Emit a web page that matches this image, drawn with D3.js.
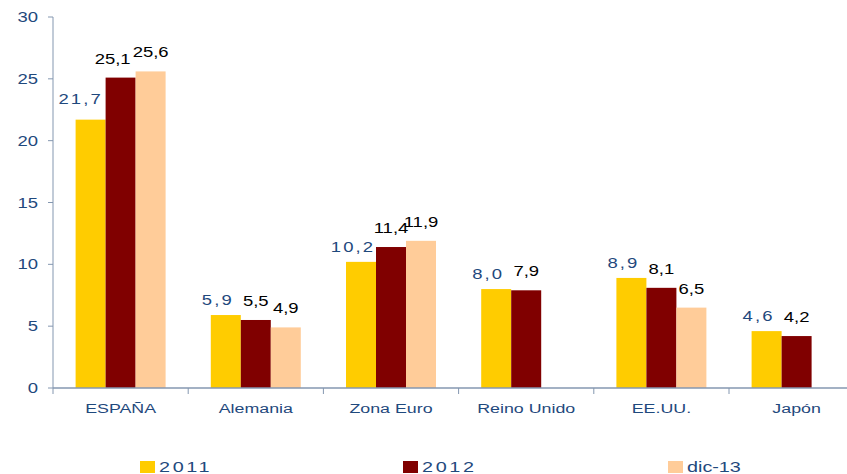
<!DOCTYPE html>
<html>
<head>
<meta charset="utf-8">
<script src="https://cdn.jsdelivr.net/npm/d3@7"></script>
<style>
  body { margin: 0; background: #fff; }
  svg { font-family: "Liberation Sans", Arial, sans-serif; }
</style>
</head>
<body>
<svg id="chart" width="847" height="474"></svg>
<script>
// values
var countries = ["ESPAÑA", "Alemania", "Zona Euro", "Reino Unido", "EE.UU.", "Japón"];
var seriesNames = ["2011", "2012", "dic-13"];
var v2011 = [21.7, 5.9, 10.2, 8.0, 8.9, 4.6];
var v2012 = [25.1, 5.5, 11.4, 7.9, 8.1, 4.2];
var vDic13 = [25.6, 4.9, 11.9, null, 6.5, null];
var yTicks = [0, 5, 10, 15, 20, 25, 30];

var colours = ["#FFCC00", "#800000", "#FFCC99"];
var labelColours = ["#1F497D", "#000", "#000"];
var navy = "#1F497D";
var series = [v2011, v2012, vDic13];

var svg = d3.select("#chart");
var plotLeft = 53, plotTop = 17, plotBottom = 388;
var band = 135.2;
var stretch = 1.32; // the original text is drawn wide

// text drawn horizontally stretched like the source image
function wideText(x, y, str, size, fill, anchor, spacing){
  return svg.append("text")
    .attr("transform", "translate(" + x + "," + y + ") scale(" + stretch + ",1)")
    .attr("text-anchor", anchor || "start")
    .attr("fill", fill)
    .style("font-size", size + "px")
    .style("letter-spacing", (spacing || 0) + "px")
    .text(str);
}

var x = d3.scaleBand().domain(countries).range([plotLeft, plotLeft + band * countries.length]);
var xs = d3.scaleBand().domain(seriesNames).range([0, 90]);
var y = d3.scaleLinear().domain([0, 30]).range([plotBottom, plotTop]);

var axisCol = "#8497B0";

// y axis
svg.append("line").attr("x1", plotLeft).attr("x2", plotLeft).attr("y1", plotTop).attr("y2", plotBottom).attr("stroke", axisCol);
svg.selectAll("line.ytick").data(yTicks).enter().append("line")
  .attr("x1", plotLeft - 5).attr("x2", plotLeft).attr("y1", function(d){return y(d)}).attr("y2", function(d){return y(d)})
  .attr("stroke", axisCol);
yTicks.forEach(function(d){
  wideText(38, y(d) + 5, d, 14, navy, "end");
});

// bars
seriesNames.forEach(function(s, si){
  var vals = series[si];
  countries.forEach(function(c, ci){
    var v = vals[ci];
    if (v == null) return;
    var bx = x(c) + (band - 90) / 2 + xs(s);
    svg.append("rect").attr("x", bx).attr("y", y(v)).attr("width", xs.bandwidth()).attr("height", plotBottom - y(v))
      .attr("fill", colours[si]);
    var dx = si === 0 ? -8 : 0, dy = si === 0 ? -10 : -14;
    if (ci === 0 && si === 1) dx = -8;
    if (ci === 0 && si === 0) { dx = -10; dy = -16; }
    wideText(bx + xs.bandwidth() / 2 + dx, y(v) + dy, v.toFixed(1).replace(".", ","), 14, labelColours[si], "middle", si === 0 ? 1.6 : 0);
  });
});

// x axis
svg.append("line").attr("x1", plotLeft).attr("x2", 847).attr("y1", plotBottom).attr("y2", plotBottom).attr("stroke", axisCol).attr("stroke-width", 1.5);
svg.selectAll("line.xtick").data(countries).enter().append("line")
  .attr("x1", function(d){return x(d)}).attr("x2", function(d){return x(d)})
  .attr("y1", plotBottom).attr("y2", plotBottom + 6).attr("stroke", axisCol);
countries.forEach(function(c){
  wideText(x(c) + band / 2, 413, c, 13.5, navy, "middle");
});

// legend
var legendX = [140, 403, 668];
seriesNames.forEach(function(s, i){
  svg.append("rect").attr("x", legendX[i]).attr("y", 461).attr("width", 15).attr("height", 12).attr("fill", colours[i]);
  wideText(legendX[i] + 19, 472, s, 15, navy, "start", i < 2 ? 2 : 0);
});
</script>
</body>
</html>
